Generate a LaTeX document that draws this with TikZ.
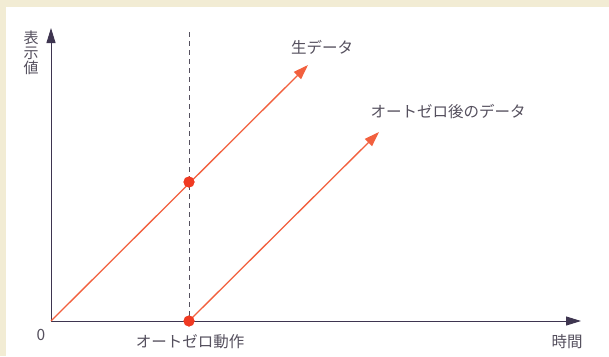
\documentclass[tikz,border=0pt]{standalone}
\usepackage{fontspec}
\setmainfont{Noto Sans CJK JP}
\usetikzlibrary{arrows.meta}

\definecolor{framebg}{HTML}{F2ECD4}
\definecolor{axiscol}{HTML}{3E3550}
\definecolor{datacol}{HTML}{F2603E}
\definecolor{dotcol}{HTML}{F03A22}
\definecolor{labelcol}{HTML}{55505E}

\tikzset{
  axis/.style={
    draw=axiscol,
    line width=1pt,
    -{Triangle[length=15pt,width=9pt]}
  },
  data/.style={
    draw=datacol,
    line width=1.3pt,
    -{Triangle[length=15pt,width=10pt]}
  },
  label/.style={
    text=labelcol,
    inner sep=1pt,
    font=\fontsize{15.5}{17}\selectfont
  },
  dot/.style={
    circle,
    fill=dotcol,
    minimum size=11pt,
    inner sep=0pt
  },
}

\begin{document}
\begin{tikzpicture}[x=1pt, y=-1pt]
  \useasboundingbox (0, 0) rectangle (609, 356);
  \fill[framebg] (0, 0) rectangle (609, 356);
  \fill[white] (6, 7) rectangle (609, 356);

  \coordinate (o) at (51, 321);
  \coordinate (ytop) at (51, 28);
  \coordinate (xend) at (581, 321);
  \coordinate (dtop) at (189, 32);
  \coordinate (rawend) at (308, 65);
  \coordinate (zeroend) at (379, 132);

  \draw[draw=labelcol, line width=0.7pt, dash pattern=on 5pt off 4pt] (dtop) -- (189, 321);
  \draw[axis] (o) -- (xend);
  \draw[axis] (o) -- (ytop);

  \node[dot] (p) at (189, 182) {};
  \node[dot] (q) at (189, 321) {};
  \draw[data] (o) -- (rawend);
  \draw[data] (q.center) -- (zeroend);
  \node[dot] at (p) {};
  \node[dot] at (q) {};

  \node[label, align=center, font=\fontsize{15}{15}\selectfont] (yl) at (31, 53) {表\\示\\値};
  \node[label] (zero) at (41, 335) {0};
  \node[label] (az) at (190, 342) {オートゼロ動作};
  \node[label] (t) at (567, 342) {時間};
  \node[label] (raw) at (322, 47) {生データ};
  \node[label] (after) at (448, 112) {オートゼロ後のデータ};
\end{tikzpicture}
\end{document}
